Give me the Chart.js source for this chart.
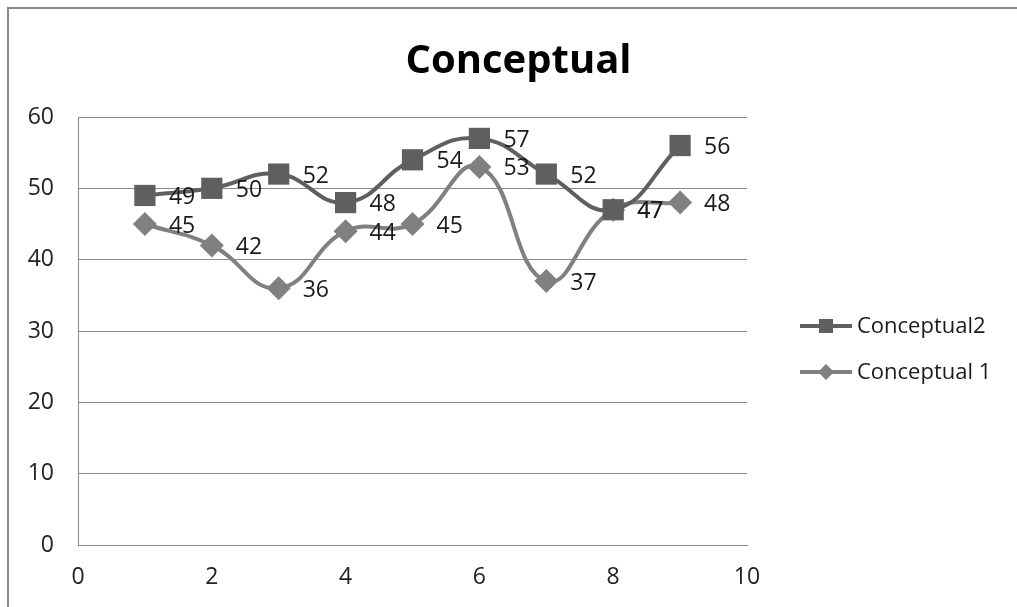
<!DOCTYPE html>
<html>
<head>
<meta charset="utf-8">
<script src="https://cdn.jsdelivr.net/npm/chart.js@4/dist/chart.umd.min.js"></script>
<style>
  html, body { margin: 0; padding: 0; background: #fff; overflow: hidden; }
  #wrap { position: relative; width: 1017px; height: 607px; }
</style>
</head>
<body>
<div id="wrap"><canvas id="chart" width="1017" height="607"></canvas></div>
<script>
// data
const xValues = [1, 2, 3, 4, 5, 6, 7, 8, 9];
const conceptual2 = [49, 50, 52, 48, 54, 57, 52, 47, 56];
const conceptual1 = [45, 42, 36, 44, 45, 53, 37, 47, 48];
const seriesNames = ['Conceptual2', 'Conceptual 1'];
const xTicks = [0, 2, 4, 6, 8, 10];
const yTicks = [0, 10, 20, 30, 40, 50, 60];

const FONT = '"Open Sans", "Liberation Sans", sans-serif';
const DARK = '#5f5f5f';
const LIGHT = '#808080';

function toPoints(ys) {
    return xValues.map((x, i) => ({ x: x, y: ys[i] }));
}

// outer chart frame (only left/top edges are visible in the picture)
const framePlugin = {
    id: 'frame',
    beforeDraw(chart) {
        const ctx = chart.ctx;
        ctx.save();
        ctx.fillStyle = '#fff';
        ctx.fillRect(0, 0, chart.width, chart.height);
        ctx.strokeStyle = '#8a8a8a';
        ctx.lineWidth = 2;
        ctx.strokeRect(8, 8, 1200, 1200);
        ctx.restore();
    }
};

// value labels to the right of each point
const valueLabels = {
    id: 'valueLabels',
    afterDatasetsDraw(chart) {
        const ctx = chart.ctx;
        ctx.save();
        ctx.font = '23px ' + FONT;
        ctx.fillStyle = '#1a1a1a';
        ctx.textAlign = 'left';
        ctx.textBaseline = 'middle';
        chart.data.datasets.forEach((ds, di) => {
            chart.getDatasetMeta(di).data.forEach((pt, i) => {
                ctx.fillText(String(ds.data[i].y), pt.x + 24, pt.y + 2);
            });
        });
        ctx.restore();
    }
};

// legend with line + marker like the original
const lineLegend = {
    id: 'lineLegend',
    afterDraw(chart) {
        const ctx = chart.ctx;
        const x0 = 800, x1 = 852;
        const rows = [326, 372];
        ctx.save();
        chart.data.datasets.forEach((ds, i) => {
            const y = rows[i];
            ctx.strokeStyle = ds.borderColor;
            ctx.lineWidth = 4;
            ctx.beginPath();
            ctx.moveTo(x0, y);
            ctx.lineTo(x1, y);
            ctx.stroke();
            ctx.fillStyle = ds.pointBackgroundColor;
            const cx = (x0 + x1) / 2;
            ctx.beginPath();
            if (ds.pointStyle === 'rect') {
                ctx.rect(cx - 7, y - 7, 14, 14);
            } else {
                ctx.moveTo(cx, y - 8);
                ctx.lineTo(cx + 8, y);
                ctx.lineTo(cx, y + 8);
                ctx.lineTo(cx - 8, y);
                ctx.closePath();
            }
            ctx.fill();
            ctx.font = '22px ' + FONT;
            ctx.fillStyle = '#1a1a1a';
            ctx.textAlign = 'left';
            ctx.textBaseline = 'middle';
            ctx.fillText(ds.label, x1 + 5, y + 1);
        });
        ctx.restore();
    }
};

new Chart(document.getElementById('chart'), {
    type: 'scatter',
    data: {
        datasets: [
            {
                label: seriesNames[0],
                data: toPoints(conceptual2),
                showLine: true,
                borderColor: DARK,
                borderWidth: 4,
                tension: 0.45,
                pointStyle: 'rect',
                pointRadius: 15,
                pointBackgroundColor: DARK,
                pointBorderWidth: 0
            },
            {
                label: seriesNames[1],
                data: toPoints(conceptual1),
                showLine: true,
                borderColor: LIGHT,
                borderWidth: 4,
                tension: 0.45,
                pointStyle: 'rectRot',
                pointRadius: 12,
                pointBackgroundColor: LIGHT,
                pointBorderWidth: 0
            }
        ]
    },
    options: {
        responsive: false,
        animation: false,
        layout: { padding: { left: 20 } },
        plugins: {
            legend: { display: false },
            tooltip: { enabled: false },
            title: {
                display: true,
                text: 'Conceptual',
                color: '#000',
                font: { family: FONT, size: 40, weight: 'bold', lineHeight: 1.2 },
                padding: { top: 38, bottom: 31 }
            }
        },
        scales: {
            x: {
                type: 'linear',
                min: 0,
                max: 10,
                afterBuildTicks: s => { s.ticks = xTicks.map(v => ({ value: v })); },
                afterFit: s => { s.height = 62; },
                grid: { display: false, drawTicks: false },
                border: { display: true, color: '#8a8a8a', width: 1 },
                ticks: { color: '#222', padding: 19, font: { family: FONT, size: 23 } }
            },
            y: {
                min: 0,
                max: 60,
                afterBuildTicks: s => { s.ticks = yTicks.map(v => ({ value: v })); },
                afterFit: s => { s.width = 58; },
                grid: { color: '#8a8a8a', lineWidth: 1, drawTicks: false },
                border: { display: true, color: '#8a8a8a', width: 1 },
                ticks: { color: '#222', padding: 24, font: { family: FONT, size: 23 } }
            },
            legendSpace: {
                type: 'linear',
                position: 'right',
                afterFit: s => { s.width = 270; },
                grid: { display: false, drawTicks: false },
                border: { display: false },
                ticks: { display: false }
            }
        }
    },
    plugins: [framePlugin, valueLabels, lineLegend]
});
</script>
</body>
</html>
